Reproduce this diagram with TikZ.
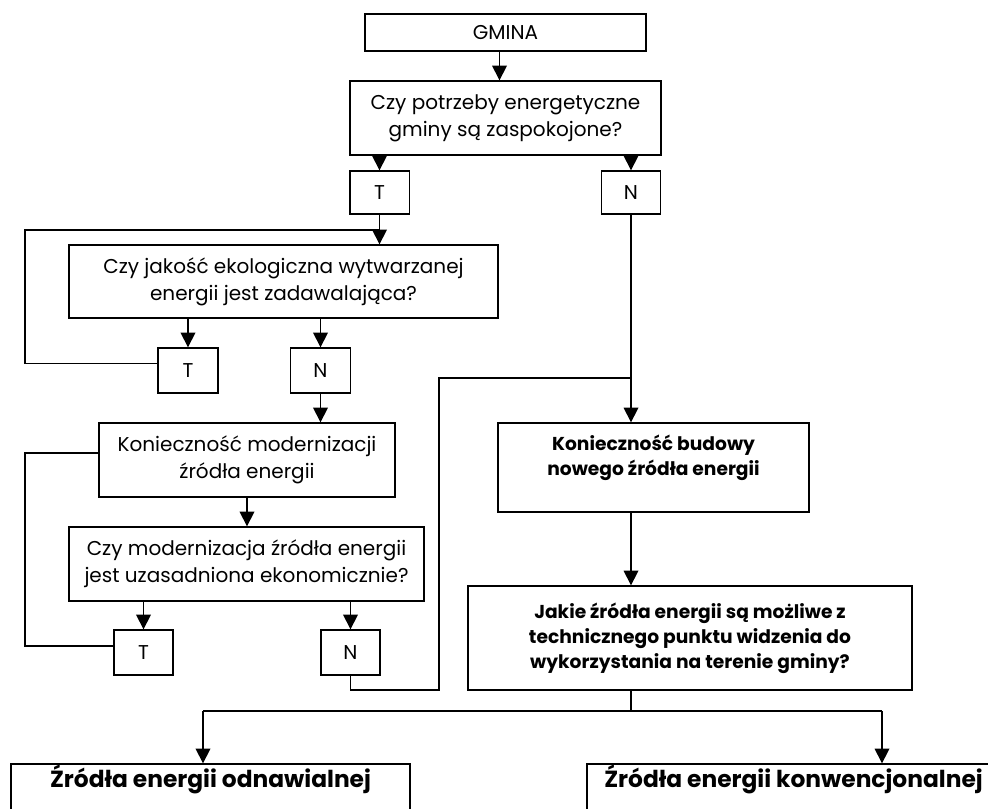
\documentclass[tikz,border=0pt]{standalone}
\usepackage{fontspec}
\setmainfont{Poppins}
\usetikzlibrary{arrows.meta}

\tikzset{every picture/.style={line width=1pt}}
\tikzset{
  box/.style={draw, inner sep=0pt, align=center, font=\fontsize{15}{20}\selectfont},
  bbox/.style={draw, inner sep=0pt, align=center},
  btext/.style={align=center, anchor=center, font=\bfseries\fontsize{14}{18.75}\selectfont},
  bigtext/.style={anchor=center, font=\bfseries\fontsize{17.5}{20}\selectfont},
  flow/.style={-{Triangle[length=11pt,width=11pt]}},
}

\begin{document}
\begin{tikzpicture}[x=0.75pt,y=0.75pt,yscale=-1,xscale=1]
\useasboundingbox (0,0) rectangle (988,809);
\clip (0,0) rectangle (988,809);

% boxes
\node [box, minimum width=210.75pt, minimum height=27.75pt] (gmina) at (505.5,32.5) {GMINA};
\node [box, minimum width=233.25pt, minimum height=55.5pt] (potrzeby) at (505.5,118) {Czy potrzeby energetyczne\\gminy są zaspokojone?};
\node [box, minimum width=44.5pt, minimum height=32.25pt] (t1) at (379.5,192.5) {T};
\node [box, minimum width=44.5pt, minimum height=32.25pt] (n1) at (631,192.5) {N};
\node [box, minimum width=321.75pt, minimum height=54.75pt] (jakosc) at (283.5,281.5) {Czy jakość ekologiczna wytwarzanej\\energii jest zadawalająca?};
\node [box, minimum width=45pt, minimum height=33.75pt] (t2) at (188,370.5) {T};
\node [box, minimum width=45pt, minimum height=33.75pt] (n2) at (320.5,370.5) {N};
\node [box, minimum width=222pt, minimum height=55.5pt] (modern) at (247,460) {Konieczność modernizacji\\źródła energii};
\node [box, minimum width=266.25pt, minimum height=55.5pt] (zasad) at (246.5,564) {Czy modernizacja źródła energii\\jest uzasadniona ekonomicznie?};
\node [box, minimum width=44.25pt, minimum height=33.75pt] (t3) at (143.5,652.5) {T};
\node [box, minimum width=44.25pt, minimum height=33.75pt] (n3) at (350.5,652.5) {N};
\node [bbox, minimum width=233.25pt, minimum height=66.75pt,
  label={[btext, name=budowaText, yshift=-26.5pt]north:{Konieczność budowy\\nowego źródła energii}}] (budowa) at (653.5,467.5) {};
\node [bbox, minimum width=333pt, minimum height=78pt, font=\bfseries\fontsize{14}{18.75}\selectfont] (jakie) at (690,638)
  {Jakie źródła energii są możliwe z\\technicznego punktu widzenia do\\wykorzystania na terenie gminy?};
\node [bbox, minimum width=299.25pt, minimum height=67.5pt,
  label={[bigtext, name=odnText, yshift=-12pt]north:{Źródła energii odnawialnej}}] (odn) at (210.5,809) {};
\node [bbox, minimum width=309.75pt, minimum height=67.5pt,
  label={[bigtext, name=konwText, yshift=-12pt]north:{Źródła energii konwencjonalnej}}] (konw) at (793.5,809) {};

% free ends
\coordinate (loopTop) at (25,230);
\coordinate (loopMod) at (25,453);
\coordinate (bypassTop) at (439,378);
\coordinate (bypassBot) at (439,690);
\coordinate (splitL) at (203,711);
\coordinate (splitR) at (882,711);

% connectors
\draw [flow] ([xshift=-4.5pt]gmina.south) -- ([xshift=-4.5pt]gmina.south |- potrzeby.north);
\draw [flow] (t1 |- potrzeby.south) -- (t1.north);
\draw [flow] (n1 |- potrzeby.south) -- (n1.north);
\draw [flow] (t1.south) -- (t1 |- jakosc.north);
\draw ([yshift=-5.5pt]t2.west) -| (loopTop) -- (t1 |- loopTop);
\draw [flow] (t2 |- jakosc.south) -- (t2.north);
\draw [flow] (n2 |- jakosc.south) -- (n2.north);
\draw [flow] (n2.south) -- (n2 |- modern.north);
\draw [flow] (modern.south) -- (modern.south |- zasad.north);
\draw ([yshift=-5pt]t3.west) -| (loopMod) -- (loopMod -| modern.west);
\draw [flow] (t3 |- zasad.south) -- (t3.north);
\draw [flow] (n3 |- zasad.south) -- (n3.north);
\draw (n3.south) |- (bypassBot) -- (bypassTop) -- (bypassTop -| n1);
\draw [flow] (n1.south) -- (n1 |- budowa.north);
\draw [flow] (n1 |- budowa.south) -- (n1 |- jakie.north);
\draw (n1 |- jakie.south) -- (n1 |- splitL);
\draw (splitL) -- (splitR);
\draw [flow] (splitL) -- (splitL |- odn.north);
\draw [flow] (splitR) -- (splitR |- konw.north);

\end{tikzpicture}
\end{document}
